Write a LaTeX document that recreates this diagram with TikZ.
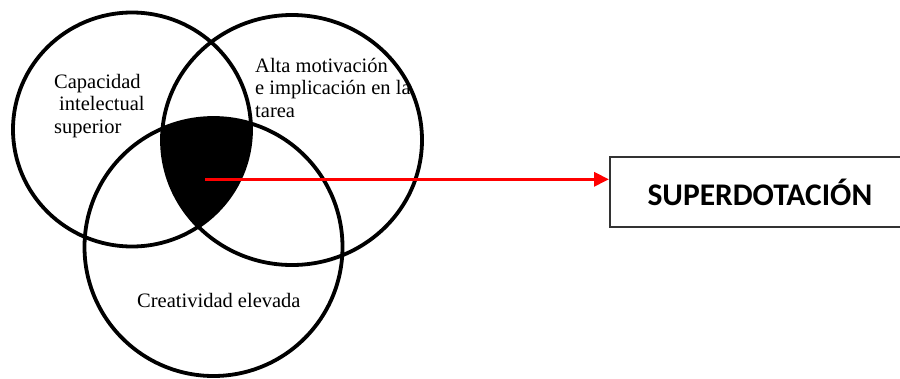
\documentclass[tikz,border=0pt]{standalone}
\usepackage{fontspec}
\setmainfont{Liberation Serif}
\newfontfamily\calib{Carlito}
\usetikzlibrary{arrows.meta}
\begin{document}
\begin{tikzpicture}[x=1pt,y=-1pt,
  venn/.style={draw=black,line width=3.8pt},
  lbl/.style={font=\fontsize{20.5}{22.5}\selectfont,inner sep=0pt,align=left,anchor=base west},
  resultbox/.style={draw=black!80,line width=1.8pt,minimum width=300pt,minimum height=70pt,anchor=north west,inner sep=0pt,font=\calib\bfseries\fontsize{31.5}{33}\selectfont},
  link/.style={draw=red,line width=3.2pt,-{Triangle[length=15pt,width=14pt]}}]
\useasboundingbox (0,0) rectangle (900,378);
\clip (0,0) rectangle (900,378);
\fill[white] (0,0) rectangle (900,378);
% intersection fill
\begin{scope}
  \clip (132,129.5) ellipse [x radius=119, y radius=117];
  \clip (292,140) ellipse [x radius=130, y radius=125];
  \fill[black] (213.5,247) circle [radius=129];
\end{scope}
\draw[venn] (132,129.5) ellipse [x radius=119, y radius=117];
\draw[venn] (292,140) ellipse [x radius=130, y radius=125];
\draw[venn] (213.5,247) circle [radius=129];
% labels (anchor = baseline of last line)
\node[lbl] (cap) at (54,133) {Capacidad\\\hspace{5pt}intelectual\\superior};
\node[lbl] (alta) at (255,117) {Alta motivación\\e implicación en la\\tarea};
\node[lbl] (crea) at (137,307) {Creatividad elevada};
% result
\node[resultbox] (box) at (609,156) {SUPERDOTACIÓN};
\coordinate (core) at (205,179.3);
\draw[link] (core) -- (core -| box.west);
\end{tikzpicture}
\end{document}
